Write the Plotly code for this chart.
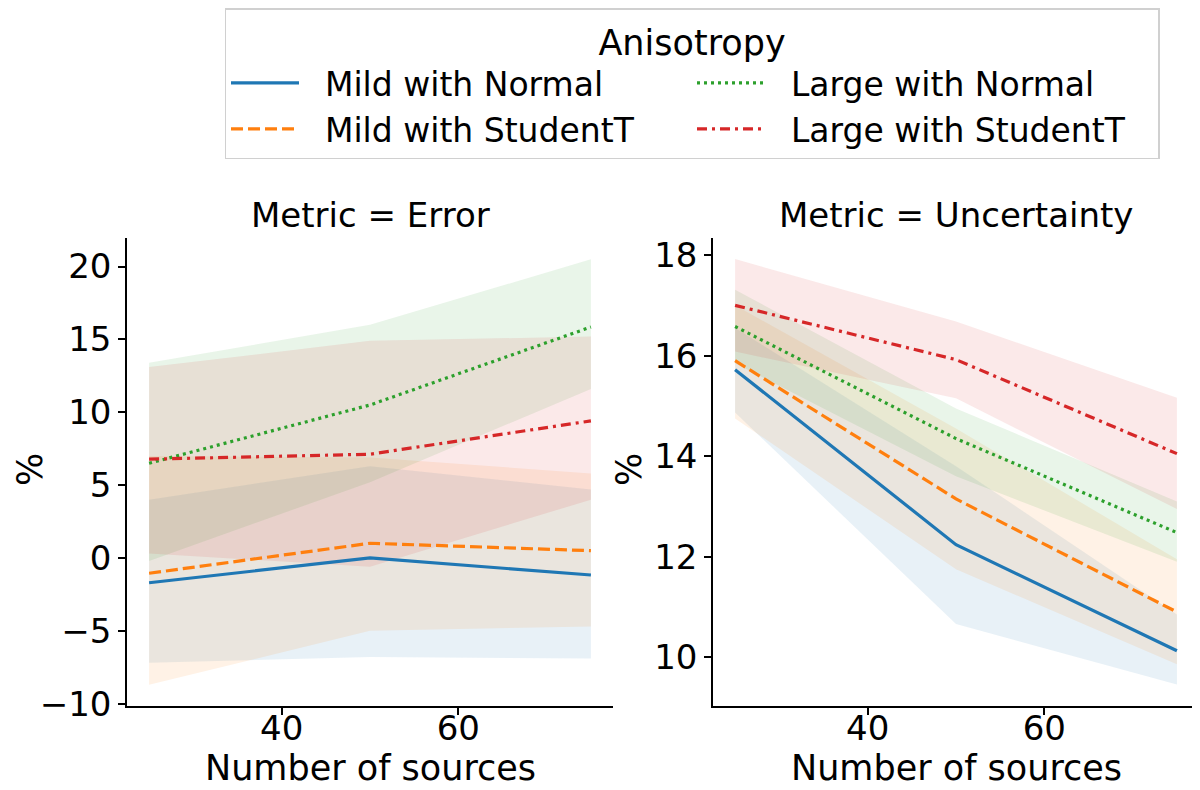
import plotly.graph_objects as go

# ---------------- data ----------------
sources = [25, 50, 75]

series_names = ["Mild with Normal", "Mild with StudentT", "Large with Normal", "Large with StudentT"]
series_colors = ["#1f77b4", "#ff7f0e", "#2ca02c", "#d62728"]
series_fills = ["rgba(31,119,180,0.1)", "rgba(255,127,14,0.1)", "rgba(44,160,44,0.1)", "rgba(214,39,40,0.1)"]
series_dash = ["solid", "12px,5px", "3px,4px", "10px,5px,3px,5px"]

# Metric = Error (%)
err_mild_normal = [-1.70, 0.00, -1.17]
err_mild_normal_lo = [-7.2, -6.8, -6.9]
err_mild_normal_hi = [4.0, 6.3, 4.7]
err_mild_student = [-1.05, 1.01, 0.50]
err_mild_student_lo = [-8.7, -5.0, -4.7]
err_mild_student_hi = [7.0, 6.9, 5.8]
err_large_normal = [6.5, 10.5, 15.85]
err_large_normal_lo = [-0.2, 5.2, 11.6]
err_large_normal_hi = [13.4, 16.0, 20.5]
err_large_student = [6.78, 7.12, 9.41]
err_large_student_lo = [0.3, -0.6, 4.0]
err_large_student_hi = [13.1, 14.9, 15.2]

# Metric = Uncertainty (%)
unc_mild_normal = [15.72, 12.24, 10.13]
unc_mild_normal_lo = [14.87, 10.66, 9.46]
unc_mild_normal_hi = [16.55, 13.8, 10.85]
unc_mild_student = [15.90, 13.15, 10.90]
unc_mild_student_lo = [14.75, 11.75, 9.86]
unc_mild_student_hi = [17.0, 14.55, 11.95]
unc_large_normal = [16.58, 14.35, 12.48]
unc_large_normal_lo = [15.85, 13.6, 11.9]
unc_large_normal_hi = [17.31, 14.95, 13.1]
unc_large_student = [17.00, 15.92, 14.05]
unc_large_student_lo = [16.08, 15.15, 12.95]
unc_large_student_hi = [17.92, 16.68, 15.16]

error_tick_vals = [-10, -5, 0, 5, 10, 15, 20]
unc_tick_vals = [10, 12, 14, 16, 18]
x_tick_vals = [40, 60]

panels = [
    ("x", "y", "Metric = Error",
     [(err_mild_normal, err_mild_normal_lo, err_mild_normal_hi),
      (err_mild_student, err_mild_student_lo, err_mild_student_hi),
      (err_large_normal, err_large_normal_lo, err_large_normal_hi),
      (err_large_student, err_large_student_lo, err_large_student_hi)]),
    ("x2", "y2", "Metric = Uncertainty",
     [(unc_mild_normal, unc_mild_normal_lo, unc_mild_normal_hi),
      (unc_mild_student, unc_mild_student_lo, unc_mild_student_hi),
      (unc_large_normal, unc_large_normal_lo, unc_large_normal_hi),
      (unc_large_student, unc_large_student_lo, unc_large_student_hi)]),
]

FONT = "DejaVu Sans"
TICK_SIZE = 34
LABEL_SIZE = 35
TITLE_SIZE = 34

# The page body has an 8px margin: the figure is sized to fit the 1200x790 window.
W, H, OFF = 1192, 782, 8


def px_x(X):
    return (X - OFF) / W


def px_y(Y):
    return (OFF + H - Y) / H


fig = go.Figure()

legend_rank = [1, 3, 2, 4]
for pi, (xa, ya, title, data) in enumerate(panels):
    for si, (mean, lo, hi) in enumerate(data):
        fig.add_trace(go.Scatter(
            x=sources + sources[::-1], y=hi + lo[::-1],
            xaxis=xa, yaxis=ya, fill="toself", fillcolor=series_fills[si],
            line=dict(width=0), mode="lines", showlegend=False, hoverinfo="skip"))
    for si, (mean, lo, hi) in enumerate(data):
        fig.add_trace(go.Scatter(
            x=sources, y=mean, xaxis=xa, yaxis=ya, mode="lines",
            name="\u00a0\u00a0" + series_names[si], legendgroup=series_names[si],
            legendrank=legend_rank[si],
            showlegend=(pi == 0),
            line=dict(color=series_colors[si], width=3.2, dash=series_dash[si])))

axis_common = dict(
    showline=True, linecolor="black", linewidth=1.5, mirror=False,
    ticks="outside", ticklen=7, tickwidth=1.5, tickcolor="black",
    showgrid=False, zeroline=False, automargin=False,
    tickfont=dict(family=FONT, size=TICK_SIZE, color="black"),
)

# tick-label-only twin x axes, placed so the labels sit closer to the spine
label_axis = dict(
    showline=False, ticks="", showgrid=False, zeroline=False, automargin=False,
    range=[22.5, 77.5], tickvals=x_tick_vals, anchor="free", position=px_y(705),
    tickfont=dict(family=FONT, size=TICK_SIZE, color="black"),
)

XD1 = [px_x(127), px_x(613)]
XD2 = [px_x(713), px_x(1199)]
YD = [px_y(706), px_y(238)]

label_font = dict(family=FONT, size=LABEL_SIZE, color="black")
title_font = dict(family=FONT, size=TITLE_SIZE, color="black")

fig.update_layout(
    width=W, height=H,
    margin=dict(l=0, r=0, t=0, b=0, autoexpand=False),
    paper_bgcolor="white", plot_bgcolor="white",
    font=dict(family=FONT, color="black"),
    xaxis=dict(domain=XD1, range=[22.5, 77.5], tickvals=x_tick_vals, anchor="y",
               showticklabels=False, **axis_common),
    yaxis=dict(domain=YD, range=[-10.16, 21.96], tickvals=error_tick_vals, anchor="x", **axis_common),
    xaxis2=dict(domain=XD2, range=[22.5, 77.5], tickvals=x_tick_vals, anchor="y2",
                showticklabels=False, **axis_common),
    yaxis2=dict(domain=YD, range=[9.03, 18.34], tickvals=unc_tick_vals, anchor="x2", **axis_common),
    xaxis3=dict(domain=XD1, overlaying="x", **label_axis),
    xaxis4=dict(domain=XD2, overlaying="x2", **label_axis),
    legend=dict(
        orientation="h", x=px_x(692), xanchor="center", y=1.0, yanchor="top",
        entrywidth=383, entrywidthmode="pixels",
        bordercolor="#d0d0d0", borderwidth=1.5, bgcolor="white",
        font=dict(family=FONT, size=33, color="black"),
        title=dict(text="Anisotropy", side="top center", font=dict(family=FONT, size=35)),
        traceorder="normal", itemwidth=68,
    ),
    annotations=[
        dict(text="Metric = Error", x=sum(XD1) / 2, y=px_y(215), xref="paper", yref="paper",
             xanchor="center", yanchor="middle", showarrow=False, font=title_font),
        dict(text="Metric = Uncertainty", x=sum(XD2) / 2, y=px_y(215), xref="paper", yref="paper",
             xanchor="center", yanchor="middle", showarrow=False, font=title_font),
        dict(text="Number of sources", x=sum(XD1) / 2, y=0.0, xref="paper", yref="paper",
             xanchor="center", yanchor="bottom", showarrow=False, font=label_font),
        dict(text="Number of sources", x=sum(XD2) / 2, y=0.0, xref="paper", yref="paper",
             xanchor="center", yanchor="bottom", showarrow=False, font=label_font),
        dict(text="%", x=0.0, y=px_y(470), xref="paper", yref="paper", textangle=-90,
             xanchor="left", yanchor="middle", showarrow=False, font=label_font),
        dict(text="%", x=px_x(629), y=px_y(470), xref="paper", yref="paper", textangle=-90,
             xanchor="center", yanchor="middle", showarrow=False, font=label_font),
    ],
)

# invisible carriers so the twin label axes are drawn
for xa in ("x3", "x4"):
    fig.add_trace(go.Scatter(x=[sources[0]], y=[None], xaxis=xa, yaxis="y" if xa == "x3" else "y2",
                             mode="markers", showlegend=False, hoverinfo="skip"))

fig.write_html("out.html")
